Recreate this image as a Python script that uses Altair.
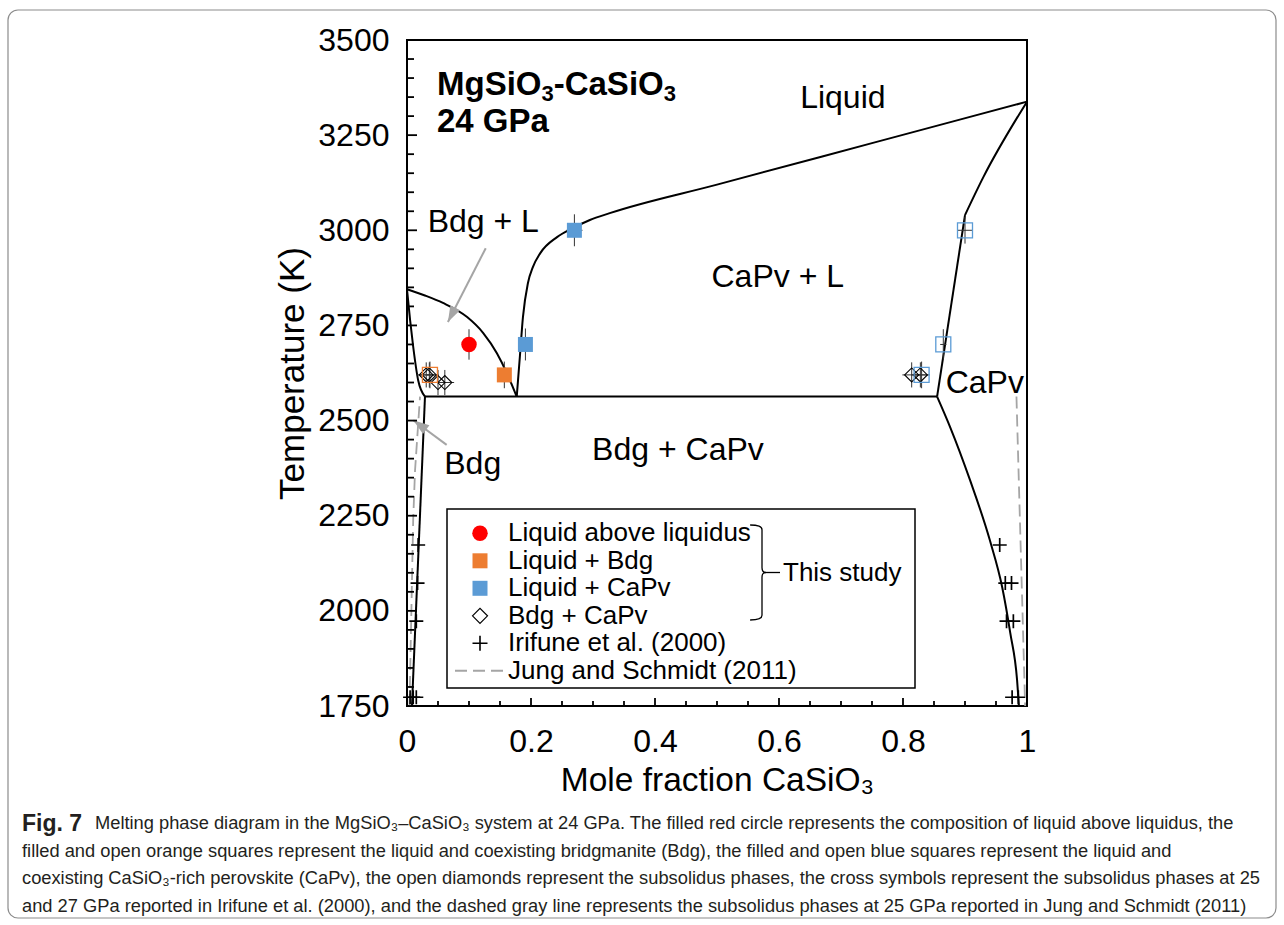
import math
import altair as alt
import pandas as pd

# ---------------- phase boundaries (mole fraction CaSiO3, temperature K) ----------------
bdg_liq_x = [0.0, 0.03, 0.058, 0.097, 0.123, 0.145, 0.161, 0.177]
bdg_liq_T = [2845, 2828, 2809, 2772, 2730, 2677, 2625, 2563]
bdg_sol_x = [0.0, 0.005, 0.010, 0.018, 0.029]
bdg_sol_T = [2845, 2764, 2694, 2606, 2563]
bdg_solvus_x = [0.029, 0.008]
bdg_solvus_T = [2563, 1750]
eut_x = [0.029, 0.855]
eut_T = [2563, 2563]
capv_liq_x = [0.177, 0.182, 0.187, 0.195, 0.203, 0.215, 0.242, 0.268, 0.295, 0.327, 0.5, 0.75, 1.0]
capv_liq_T = [2563, 2667, 2772, 2861, 2903, 2940, 2982, 3006, 3027, 3045, 3120, 3229, 3338]
capv_sol_lo_x = [0.855, 0.9]
capv_sol_lo_T = [2563, 3040]
capv_sol_hi_x = [0.9, 0.93, 1.0]
capv_sol_hi_T = [3040, 3141, 3338]
capv_solvus_x = [0.855, 0.876, 0.908, 0.940, 0.960, 0.973, 0.984, 0.987]
capv_solvus_T = [2563, 2483, 2344, 2186, 2062, 1942, 1818, 1750]

# Jung and Schmidt (2011) dashed lines
js_left_x = [0.004, 0.010, 0.013, 0.021]
js_left_T = [1750, 2240, 2370, 2563]
js_right_x = [0.983, 0.997]
js_right_T = [2563, 1750]

# ---------------- experimental points ----------------
liq_x, liq_T, liq_ex, liq_eT = [0.100], [2700], [0.005], [40]
lb_x, lb_T, lb_ex, lb_eT = [0.157], [2620], [0.005], [35]          # liquid + Bdg (filled)
bo_x, bo_T, bo_ex, bo_eT = [0.037], [2620], [0.005], [35]          # coexisting Bdg (open)
lc_x, lc_T = [0.191, 0.270], [2700, 3000]                          # liquid + CaPv (filled)
lc_ex, lc_eT = [0.005, 0.013], [42, 42]
co_x, co_T = [0.830, 0.865, 0.900], [2620, 2700, 3000]             # coexisting CaPv (open)
co_ex, co_eT = [0.010, 0.005, 0.012], [35, 40, 35]
sub_x = [0.031, 0.036, 0.050, 0.061, 0.814, 0.828]                 # Bdg + CaPv (diamonds)
sub_T = [2620, 2620, 2600, 2600, 2620, 2620]
sub_ex = [0.015, 0.015, 0.015, 0.015, 0.015, 0.015]
sub_eT = [33, 33, 33, 33, 33, 33]
iri_x = [0.018, 0.017, 0.015, 0.005, 0.010, 0.015,
         0.956, 0.965, 0.975, 0.967, 0.978, 0.976, 0.986]
iri_T = [2173, 2073, 1973, 1773, 1773, 1773,
         2173, 2073, 2073, 1973, 1973, 1773, 1773]

# ---------------- text ----------------
region_labels = ["Liquid", "CaPv + L", "Bdg + CaPv", "CaPv", "Bdg + L", "Bdg"]
region_x = [0.703, 0.598, 0.437, 0.932, 0.123, 0.106]
region_T = [3348, 2877, 2422, 2599, 3022, 2386]
title_parts = ["MgSiO", "3", "-CaSiO", "3"]
title_line2 = "24 GPa"
arrow_tail_x = [0.127, 0.064]
arrow_tail_T = [2953, 2436]
arrow_tip_x = [0.066, 0.0102]
arrow_tip_T = [2759, 2501]
legend_labels = ["Liquid above liquidus", "Liquid + Bdg", "Liquid + CaPv",
                 "Bdg + CaPv", "Irifune et al. (2000)", "Jung and Schmidt (2011)"]
x_major = [0, 0.2, 0.4, 0.6, 0.8, 1]
x_minor = [0.05, 0.1, 0.15, 0.25, 0.3, 0.35, 0.45, 0.5, 0.55, 0.65, 0.7, 0.75, 0.85, 0.9, 0.95]
y_major = [1750, 2000, 2250, 2500, 2750, 3000, 3250, 3500]
y_minor = [t for t in range(1800, 3500, 50) if t not in y_major]
caption_bold = "Fig. 7"
caption_lines = [
    "Melting phase diagram in the MgSiO₃–CaSiO₃ system at 24 GPa. The filled red circle represents the composition of liquid above liquidus, the",
    "filled and open orange squares represent the liquid and coexisting bridgmanite (Bdg), the filled and open blue squares represent the liquid and",
    "coexisting CaSiO₃-rich perovskite (CaPv), the open diamonds represent the subsolidus phases, the cross symbols represent the subsolidus phases at 25",
    "and 27 GPa reported in Irifune et al. (2000), and the dashed gray line represents the subsolidus phases at 25 GPa reported in Jung and Schmidt (2011)",
]

# ---------------- layout / style ----------------
W, H = 620, 666
FONT = "Liberation Sans"
ORANGE = "#ED7D31"
BLUE = "#5B9BD5"
GRAY = "#A5A5A5"

xscale = alt.Scale(domain=[0, 1], nice=False, zero=False)
yscale = alt.Scale(domain=[1750, 3500], nice=False, zero=False)
xaxis = alt.Axis(values=x_major, format="~g", title="Mole fraction CaSiO₃", grid=False,
                 domain=False, ticks=False, tickSize=0, labelFont=FONT, labelFontSize=32,
                 labelColor="black", labelPadding=20, labelFlush=False, labelOverlap=False,
                 titleFont=FONT, titleFontSize=33.5, titleFontWeight="normal",
                 titleColor="black", titlePadding=7)
yaxis = alt.Axis(values=y_major, format="d", title="Temperature (K)", grid=False,
                 domain=False, ticks=False, tickSize=0, labelFont=FONT, labelFontSize=32,
                 labelColor="black", labelPadding=18, labelFlush=False, labelOverlap=False,
                 titleFont=FONT, titleFontSize=35, titleFontWeight="normal",
                 titleColor="black", titlePadding=7)


def X(f="x"):
    return alt.X(f"{f}:Q", scale=xscale, axis=xaxis)


def Y(f="T"):
    return alt.Y(f"{f}:Q", scale=yscale, axis=yaxis)


one = pd.DataFrame({"k": [0]})


def seg_df(segs):
    rows = []
    for name, xs, ts in segs:
        for i, (a, b) in enumerate(zip(xs, ts)):
            rows.append({"seg": name, "i": i, "x": a, "T": b})
    return pd.DataFrame(rows)


smooth = seg_df([("bl", bdg_liq_x, bdg_liq_T), ("bs", bdg_sol_x, bdg_sol_T),
                 ("cl", capv_liq_x, capv_liq_T), ("cv", capv_solvus_x, capv_solvus_T),
                 ("ch", capv_sol_hi_x, capv_sol_hi_T)])
straight = seg_df([("bv", bdg_solvus_x, bdg_solvus_T), ("eu", eut_x, eut_T),
                   ("cs", capv_sol_lo_x, capv_sol_lo_T)])
dashed = seg_df([("jl", js_left_x, js_left_T), ("jr", js_right_x, js_right_T)])

layers = []
layers.append(alt.Chart(smooth).mark_line(color="black", strokeWidth=2, interpolate="monotone")
              .encode(x=X(), y=Y(), detail="seg:N"))
layers.append(alt.Chart(straight).mark_line(color="black", strokeWidth=2)
              .encode(x=X(), y=Y(), detail="seg:N", order="i:Q"))
layers.append(alt.Chart(dashed).mark_line(color=GRAY, strokeWidth=1.8, strokeDash=[12, 6])
              .encode(x=X(), y=Y(), detail="seg:N"))


def pts(xs, ts, exs, ets):
    d = pd.DataFrame({"x": xs, "T": ts, "ex": exs, "eT": ets})
    d["x1"] = d["x"] - d["ex"]
    d["x2"] = d["x"] + d["ex"]
    d["T1"] = d["T"] - d["eT"]
    d["T2"] = d["T"] + d["eT"]
    return d


groups = [pts(liq_x, liq_T, liq_ex, liq_eT), pts(lb_x, lb_T, lb_ex, lb_eT),
          pts(bo_x, bo_T, bo_ex, bo_eT), pts(lc_x, lc_T, lc_ex, lc_eT),
          pts(co_x, co_T, co_ex, co_eT), pts(sub_x, sub_T, sub_ex, sub_eT)]
err = pd.concat(groups, ignore_index=True)
layers.append(alt.Chart(err).mark_rule(color="#333333", strokeWidth=1)
              .encode(x=X(), y=Y("T1"), y2=alt.Y2("T2:Q")))
layers.append(alt.Chart(err).mark_rule(color="#333333", strokeWidth=1)
              .encode(x=X("x1"), x2=alt.X2("x2:Q"), y=Y()))

CROSS = "M-1,0L1,0M0,-1L0,1"
iri = pd.DataFrame({"x": iri_x, "T": iri_T})
layers.append(alt.Chart(iri).mark_point(shape=CROSS, filled=False, color="black",
                                        strokeWidth=1.7, size=196, opacity=1)
              .encode(x=X(), y=Y()))
layers.append(alt.Chart(groups[5]).mark_point(shape="diamond", filled=False, color="black",
                                              strokeWidth=1.1, size=196, opacity=1)
              .encode(x=X(), y=Y()))
layers.append(alt.Chart(groups[2]).mark_point(shape="square", filled=False, color=ORANGE,
                                              strokeWidth=1.3, size=225, opacity=1)
              .encode(x=X(), y=Y()))
layers.append(alt.Chart(groups[4]).mark_point(shape="square", filled=False, color=BLUE,
                                              strokeWidth=1.3, size=225, opacity=1)
              .encode(x=X(), y=Y()))
layers.append(alt.Chart(groups[1]).mark_point(shape="square", filled=True, color=ORANGE,
                                              size=225, opacity=1)
              .encode(x=X(), y=Y()))
layers.append(alt.Chart(groups[3]).mark_point(shape="square", filled=True, color=BLUE,
                                              size=225, opacity=1)
              .encode(x=X(), y=Y()))
layers.append(alt.Chart(groups[0]).mark_point(shape="circle", filled=True, color="#FF0000",
                                              size=240, opacity=1)
              .encode(x=X(), y=Y()))

# arrows
arr = pd.DataFrame({"x": arrow_tail_x, "T": arrow_tail_T, "x2": arrow_tip_x, "T2": arrow_tip_T})
layers.append(alt.Chart(arr).mark_rule(color=GRAY, strokeWidth=2)
              .encode(x=X(), y=Y(), x2=alt.X2("x2:Q"), y2=alt.Y2("T2:Q")))
ARROW = "M0,0L-0.34,1L0.34,1Z"
for tx, tT, hx, hT in zip(arrow_tail_x, arrow_tail_T, arrow_tip_x, arrow_tip_T):
    dx = (hx - tx) * W
    dy = -(hT - tT) * H / 1750.0
    ang = math.degrees(math.atan2(dx, -dy)) % 360
    layers.append(alt.Chart(pd.DataFrame({"x": [hx], "T": [hT]}))
                  .mark_point(shape=ARROW, filled=True, color=GRAY, size=1024, opacity=1, angle=ang)
                  .encode(x=X(), y=Y()))

# region labels
lab = pd.DataFrame({"x": region_x, "T": region_T, "t": region_labels})
layers.append(alt.Chart(lab).mark_text(font=FONT, fontSize=32, color="black",
                                       align="center", baseline="middle")
              .encode(x=X(), y=Y(), text="t:N"))

# bold title with real subscripts (pixel offsets relative to plot origin)
title_x = [30, 134.5, 146.7, 256.7]
title_size = [33, 22, 33, 22]
title_y = [45, 54, 45, 54]
for t, px, fs, py in zip(title_parts, title_x, title_size, title_y):
    layers.append(alt.Chart(one).mark_text(font=FONT, fontSize=fs, fontWeight="bold", color="black",
                                           align="left", baseline="middle")
                  .encode(x=alt.value(px), y=alt.value(py), text=alt.value(t)))
layers.append(alt.Chart(one).mark_text(font=FONT, fontSize=33, fontWeight="bold", color="black",
                                       align="left", baseline="middle")
              .encode(x=alt.value(30), y=alt.value(82), text=alt.value(title_line2)))

# inward ticks
layers.append(alt.Chart(pd.DataFrame({"x": x_major})).mark_rule(color="black", strokeWidth=1.8)
              .encode(x=X(), y=alt.value(H), y2=alt.value(H - 8)))
layers.append(alt.Chart(pd.DataFrame({"x": x_minor})).mark_rule(color="black", strokeWidth=1.8)
              .encode(x=X(), y=alt.value(H), y2=alt.value(H - 5)))
layers.append(alt.Chart(pd.DataFrame({"T": y_major})).mark_rule(color="black", strokeWidth=1.8)
              .encode(y=Y(), x=alt.value(0), x2=alt.value(10)))
layers.append(alt.Chart(pd.DataFrame({"T": y_minor})).mark_rule(color="black", strokeWidth=1.8)
              .encode(y=Y(), x=alt.value(0), x2=alt.value(7)))

# ---------------- legend (pixel positions relative to plot origin) ----------------
layers.append(alt.Chart(one).mark_rect(fill="white", stroke="black", strokeWidth=1.5)
              .encode(x=alt.value(40), x2=alt.value(508), y=alt.value(469), y2=alt.value(648)))
row_y = [493.3 + 27.5 * k for k in range(6)]
sym_x = 73
legend_syms = [
    dict(shape="circle", filled=True, color="#FF0000", size=240),
    dict(shape="square", filled=True, color=ORANGE, size=225),
    dict(shape="square", filled=True, color=BLUE, size=225),
    dict(shape="diamond", filled=False, color="black", size=225, strokeWidth=1.2),
    dict(shape=CROSS, filled=False, color="black", size=225, strokeWidth=1.6),
]
for k, s in enumerate(legend_syms):
    layers.append(alt.Chart(one).mark_point(opacity=1, **s)
                  .encode(x=alt.value(sym_x), y=alt.value(row_y[k])))
layers.append(alt.Chart(one).mark_rule(color=GRAY, strokeWidth=2, strokeDash=[12, 6])
              .encode(x=alt.value(48), x2=alt.value(96), y=alt.value(row_y[5])))
for k, t in enumerate(legend_labels):
    layers.append(alt.Chart(one).mark_text(font=FONT, fontSize=26, color="black",
                                           align="left", baseline="middle")
                  .encode(x=alt.value(101), y=alt.value(row_y[k]), text=alt.value(t)))
BRACE = "M-0.25,-1Q0,-1 0,-0.9L0,-0.1Q0,0 0.08,0Q0,0 0,0.1L0,0.9Q0,1 -0.25,1"
layers.append(alt.Chart(one).mark_point(shape=BRACE, filled=False, color="black",
                                        strokeWidth=1.3, size=9025, opacity=1)
              .encode(x=alt.value(355), y=alt.value(532.5)))
layers.append(alt.Chart(one).mark_rule(color="black", strokeWidth=1.3)
              .encode(x=alt.value(358), x2=alt.value(373), y=alt.value(532.5)))
layers.append(alt.Chart(one).mark_text(font=FONT, fontSize=26, color="black",
                                       align="left", baseline="middle")
              .encode(x=alt.value(376), y=alt.value(532.5), text=alt.value("This study")))

# ---------------- caption and outer frame ----------------
layers.append(alt.Chart(one).mark_rect(fill=None, stroke="#8C8C8C", strokeWidth=1.2, cornerRadius=10)
              .encode(x=alt.value(-399), x2=alt.value(869), y=alt.value(-30), y2=alt.value(878)))
cap_y = [784 + 27.7 * k for k in range(4)]
layers.append(alt.Chart(one).mark_text(font=FONT, fontSize=23, fontWeight="bold", color="#231F20",
                                       align="left", baseline="middle")
              .encode(x=alt.value(-385), y=alt.value(cap_y[0]), text=alt.value(caption_bold)))
for k, t in enumerate(caption_lines):
    layers.append(alt.Chart(one).mark_text(font=FONT, fontSize=18.3, color="#231F20",
                                           align="left", baseline="middle")
                  .encode(x=alt.value(-312 if k == 0 else -385), y=alt.value(cap_y[k]),
                          text=alt.value(t)))

chart = (
    alt.layer(*layers)
    .properties(width=W, height=H,
                padding={"left": 407, "top": 40, "right": 257, "bottom": 219},
                autosize=alt.AutoSizeParams(type="none"),
                background="white")
    .configure_view(stroke="black", strokeWidth=2)
)

chart.save("out.html", embed_options={"renderer": "svg", "actions": False})
